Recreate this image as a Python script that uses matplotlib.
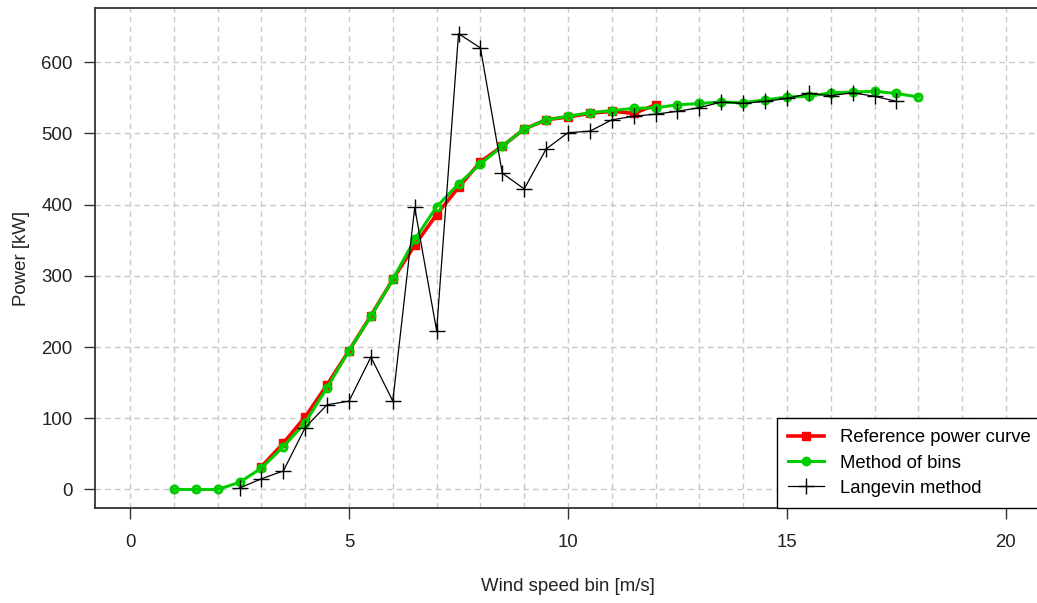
import matplotlib
matplotlib.use("Agg")
import matplotlib.pyplot as plt
import numpy as np

plt.rcParams['font.family'] = ['Liberation Sans', 'DejaVu Sans']

# reference power curve
ref_ws = [3.0, 3.5, 4.0, 4.5, 5.0, 5.5, 6.0, 6.5, 7.0, 7.5, 8.0, 8.5, 9.0,
          9.5, 10.0, 10.5, 11.0, 11.5, 12.0]
ref_p = [32, 65, 102, 147, 195, 244, 295, 343, 386, 424, 460, 482, 506,
         519, 523, 528, 531, 528, 540]

# method of bins
bins_ws = [1.0, 1.5, 2.0, 2.5, 3.0, 3.5, 4.0, 4.5, 5.0, 5.5, 6.0, 6.5, 7.0,
           7.5, 8.0, 8.5, 9.0, 9.5, 10.0, 10.5, 11.0, 11.5, 12.0, 12.5, 13.0,
           13.5, 14.0, 14.5, 15.0, 15.5, 16.0, 16.5, 17.0, 17.5, 18.0]
bins_p = [0, 0, 0, 10, 30, 60, 94, 143, 195, 243, 295, 351, 397,
          429, 457, 482, 506, 519, 524, 529, 532, 535, 536, 540, 542,
          544, 543, 547, 551, 552, 557, 558, 559, 556, 551]

# langevin method
lang_ws = [2.5, 3.0, 3.5, 4.0, 4.5, 5.0, 5.5, 6.0, 6.5, 7.0, 7.5, 8.0, 8.5,
           9.0, 9.5, 10.0, 10.5, 11.0, 11.5, 12.0, 12.5, 13.0, 13.5, 14.0,
           14.5, 15.0, 15.5, 16.0, 16.5, 17.0, 17.5]
lang_p = [2, 15, 26, 87, 119, 124, 186, 124, 396, 223, 640, 620, 444,
          422, 478, 501, 503, 519, 524, 527, 531, 536, 544, 542,
          545, 549, 556, 553, 557, 552, 545]

W, H = 1037, 603
fig = plt.figure(figsize=(W / 100, H / 100), dpi=100)
# axes box runs slightly past the right edge of the image (as in the reference)
ax = fig.add_axes([95 / W, (H - 508) / H, 946 / W, 500 / H])

ax.set_xticks(np.arange(0, 21, 1), minor=True)
ax.set_xticks([0, 5, 10, 15, 20])
ax.set_yticks(np.arange(0, 601, 100))
ax.grid(True, which='both', axis='x', color='#c8c8c8', linestyle=(0, (4, 3)), linewidth=1)
ax.grid(True, which='major', axis='y', color='#c8c8c8', linestyle=(0, (4, 3)), linewidth=1)
ax.set_axisbelow(True)
ax.tick_params(which='minor', length=0)

ax.plot(ref_ws, ref_p, color='#ff0000', linewidth=2.6, marker='s', markersize=6,
        label='Reference power curve', zorder=3)
ax.plot(bins_ws, bins_p, color='#00cc00', linewidth=2.2, marker='o', markersize=5,
        markerfacecolor='none', markeredgewidth=2.2, label='Method of bins', zorder=4)
ax.plot(lang_ws, lang_p, color='black', linewidth=0.9, marker='+', markersize=11,
        markeredgewidth=1.0, label='Langevin method', zorder=5)

ax.set_xlim(-0.8, 20.8)
ax.set_ylim(-26, 676)

for s in ax.spines.values():
    s.set_color('#333333')
    s.set_linewidth(1.3)
ax.tick_params(which='major', length=8, width=1, color='#333333', labelsize=13.4,
               labelcolor='#222222')
ax.tick_params(axis='x', which='major', pad=11)
ax.tick_params(axis='y', which='major', pad=8)

ax.set_xlabel('Wind speed bin [m/s]', fontsize=13.4, color='#222222', labelpad=19)
ax.set_ylabel('Power [kW]', fontsize=13.4, color='#222222', labelpad=8)

handles, labels = ax.get_legend_handles_labels()
handles[1] = plt.Line2D([], [], color='#00cc00', linewidth=2.2, marker='o', markersize=6)
leg = ax.legend(handles, labels, loc='lower right',
                bbox_to_anchor=(1042 / W, (H - 508) / H), bbox_transform=fig.transFigure,
                fontsize=13.3, frameon=True, fancybox=False, framealpha=1,
                edgecolor='black', borderpad=0.6, labelspacing=0.45, handlelength=1.9,
                handletextpad=0.9, borderaxespad=0)
leg.get_frame().set_linewidth(1.0)

fig.savefig('out.png', dpi=100)
